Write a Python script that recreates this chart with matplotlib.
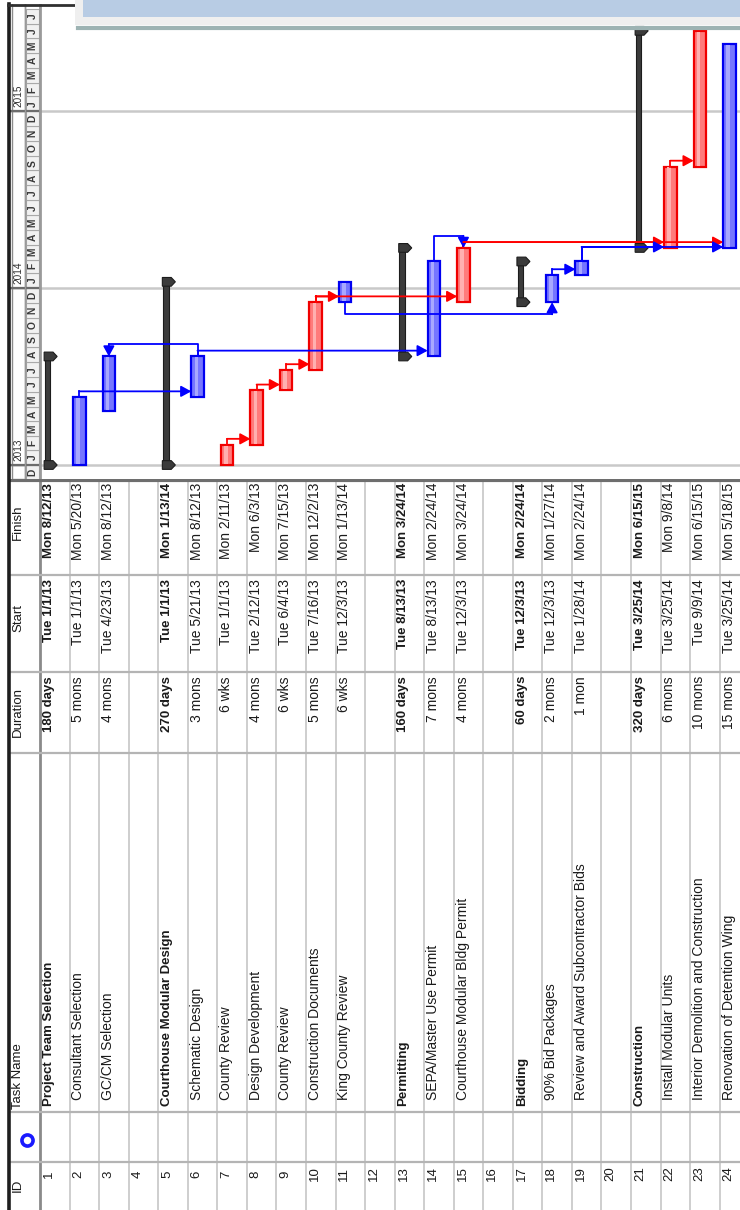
import datetime as dt
import matplotlib
matplotlib.use("Agg")
import matplotlib.pyplot as plt
import matplotlib.dates as mdates
from matplotlib.patches import Rectangle, Polygon
from matplotlib.lines import Line2D

plt.rcParams['font.family'] = ['Liberation Sans', 'DejaVu Sans']

# ------------------------------------------------------------------ data
task_ids = list(range(1, 25))
task_names = [
    "Project Team Selection", "Consultant Selection", "GC/CM Selection", "",
    "Courthouse Modular Design", "Schematic Design", "County Review", "Design Development",
    "County Review", "Construction Documents", "King County Review", "",
    "Permitting", "SEPA/Master Use Permit", "Courthouse Modular Bldg Permit", "",
    "Bidding", "90% Bid Packages", "Review and Award Subcontractor Bids", "",
    "Construction", "Install Modular Units", "Interior Demolition and Construction",
    "Renovation of Detention Wing"]
durations = [
    "180 days", "5 mons", "4 mons", "", "270 days", "3 mons", "6 wks", "4 mons",
    "6 wks", "5 mons", "6 wks", "", "160 days", "7 mons", "4 mons", "",
    "60 days", "2 mons", "1 mon", "", "320 days", "6 mons", "10 mons", "15 mons"]
start_dates = [
    "2013-01-01", "2013-01-01", "2013-04-23", None, "2013-01-01", "2013-05-21",
    "2013-01-01", "2013-02-12", "2013-06-04", "2013-07-16", "2013-12-03", None,
    "2013-08-13", "2013-08-13", "2013-12-03", None, "2013-12-03", "2013-12-03",
    "2014-01-28", None, "2014-03-25", "2014-03-25", "2014-09-09", "2014-03-25"]
finish_dates = [
    "2013-08-12", "2013-05-20", "2013-08-12", None, "2014-01-13", "2013-08-12",
    "2013-02-11", "2013-06-03", "2013-07-15", "2013-12-02", "2014-01-13", None,
    "2014-03-24", "2014-02-24", "2014-03-24", None, "2014-02-24", "2014-01-27",
    "2014-02-24", None, "2015-06-15", "2014-09-08", "2015-06-15", "2015-05-18"]
bar_types = [
    "summary", "task", "task", None, "summary", "task", "crit", "crit",
    "crit", "crit", "task", None, "summary", "task", "crit", None,
    "summary", "task", "task", None, "summary", "crit", "crit", "task"]
# (predecessor id, successor id, link type)
links = [(2, 6, "FS"), (6, 3, "FF"), (6, 14, "FS"), (7, 8, "FS"), (8, 9, "FS"),
         (9, 10, "FS"), (10, 11, "FS"), (10, 15, "FS"), (11, 18, "SS"),
         (14, 15, "FF"), (18, 19, "FS"), (15, 22, "FS"), (15, 24, "FS"),
         (19, 22, "FS"), (19, 24, "FS"), (22, 23, "FS")]
col_headers = ["ID", "Task Name", "Duration", "Start", "Finish"]
timeline_start, timeline_end = "2012-12-01", "2015-08-01"

# ------------------------------------------------------------------ layout
W, H = 740, 1210
fig = plt.figure(figsize=(W / 100, H / 100), dpi=100)
fig.patch.set_facecolor("white")

ROW, ROW0, X_LEFT = 29.55, 40, 9


def px_row(px):
    return 0.5 + (px - ROW0) / ROW


def frect(x0, y0, x1, y1):
    return [x0 / W, 1 - y1 / H, (x1 - x0) / W, (y1 - y0) / H]


d2n = lambda s: mdates.date2num(dt.datetime.strptime(s, "%Y-%m-%d"))
T0 = d2n("2013-01-01")
PPD = 14.75 / 30.44
Y_T0, G_TOP, G_BOT = 465, 4, 479
xlo, xhi = px_row(X_LEFT), px_row(W)

gx = fig.add_axes(frect(X_LEFT, G_TOP, W, G_BOT))
gx.set_xlim(xlo, xhi)
gx.set_ylim(T0 - (G_BOT - Y_T0) / PPD, T0 + (Y_T0 - G_TOP) / PPD)
gx.axis("off")

tx = fig.add_axes(frect(X_LEFT, G_BOT, W, H))
tx.set_xlim(xlo, xhi)
tx.set_ylim(H, G_BOT)
tx.axis("off")

FS_REG, FS_BOLD, FS_HEAD = 10.0, 9.5, 9.5
TXT = "#1a1a1a"

# ------------------------------------------------------------------ table
for k in range(0, 25):
    tx.axvline(k + 0.5, color="#8a8a8a" if k == 0 else "#c6c6c6",
               lw=2.0 if k == 0 else 1.2, zorder=1)
for yb in (575, 672, 753, 1112, 1162):
    tx.axhline(yb, color="#b4b4b4", lw=1.6, zorder=1)
tx.axhline(G_BOT + 1, color="#6e6e6e", lw=3, zorder=2)

hx = px_row(18)
kw = dict(rotation=90, rotation_mode="anchor", va="center", color=TXT)
tx.text(hx, 1192, col_headers[0], ha="left", fontsize=FS_HEAD, **kw)
tx.text(hx, 1109, col_headers[1], ha="left", fontsize=FS_HEAD, **kw)
tx.text(hx, 712, col_headers[2], ha="center", fontsize=FS_HEAD, **kw)
tx.text(hx, 618, col_headers[3], ha="center", fontsize=FS_HEAD, **kw)
tx.text(hx, 522, col_headers[4], ha="center", fontsize=FS_HEAD, **kw)
tx.plot([px_row(27)], [1140], "o", ms=8, mfc="white", mec="#1a1aff", mew=2.6, zorder=3)


def fmt(s):
    d = dt.datetime.strptime(s, "%Y-%m-%d")
    return f"{d:%a} {d.month}/{d.day}/{d:%y}"


for r, name, dur, s, f, kind in zip(task_ids, task_names, durations,
                                     start_dates, finish_dates, bar_types):
    xc = r - 0.2
    tx.text(xc, 1174, str(r), ha="center", fontsize=FS_HEAD, **kw)
    if not name:
        continue
    summ = kind == "summary"
    st = dict(fontweight="bold" if summ else "normal",
              fontsize=FS_BOLD if summ else FS_REG, **kw)
    tx.text(xc, 1106 if summ else 1100, name, ha="left", **st)
    tx.text(xc, 676, dur, ha="right", **st)
    tx.text(xc, 579, fmt(s), ha="right", **st)
    tx.text(xc, 483, fmt(f), ha="right", **st)

# ------------------------------------------------------------------ timescale header
yr_x0, yr_x1 = px_row(12), px_row(25)
mo_x0, mo_x1 = px_row(25), px_row(40)
months = []
cur = dt.datetime.strptime(timeline_start, "%Y-%m-%d")
end = dt.datetime.strptime(timeline_end, "%Y-%m-%d")
while cur < end:
    nxt = dt.datetime(cur.year + (cur.month == 12), cur.month % 12 + 1, 1)
    months.append((cur, nxt))
    cur = nxt
for a, b in months:
    ya, yb = mdates.date2num(a), mdates.date2num(b)
    gx.add_patch(Rectangle((mo_x0 + 0.03, ya), mo_x1 - mo_x0 - 0.06, yb - ya,
                           fc="#f1f1f1", ec="#a9a9a9", lw=0.8, zorder=2))
    gx.text((mo_x0 + mo_x1) / 2, (ya + yb) / 2, a.strftime("%b")[0], rotation=90,
            ha="center", va="center", fontsize=7.4, fontweight="bold",
            color="#3a3a3a", zorder=3, clip_on=True)
for yr in (2012, 2013, 2014, 2015):
    ya = max(mdates.date2num(dt.datetime(yr, 1, 1)), gx.get_ylim()[0])
    yb = mdates.date2num(dt.datetime(yr + 1, 1, 1))
    gx.add_patch(Rectangle((yr_x0, ya), yr_x1 - yr_x0, yb - ya, fc="white",
                           ec="#8c8c8c", lw=1.0, zorder=2))
    if yr >= 2013:
        gx.text((yr_x0 + yr_x1) / 2, ya + 8, str(yr), rotation=90,
                rotation_mode="anchor", ha="left", va="center", fontsize=7.2,
                color="#303030", zorder=3, clip_on=True)
        gx.axhline(ya, color="#c9c9c9", lw=1.8, zorder=1)
        gx.plot([xlo, 0.5], [ya, ya], color="#6c6c6c", lw=1.6, zorder=3)
gx.axvline(0.5, color="#9a9a9a", lw=2, zorder=3)
gx.axvline(mo_x0, color="#9a9a9a", lw=1.0, zorder=3)

# ------------------------------------------------------------------ bars
nums = {}
for r, s, f in zip(task_ids, start_dates, finish_dates):
    if s is not None:
        nums[r] = (d2n(s), d2n(f) + 1)

SUM_C, SUM_E = "#3b3b3b", "#1c1c1c"
for r, kind in zip(task_ids, bar_types):
    if kind is None:
        continue
    y0, y1 = nums[r]
    if kind == "summary":
        gx.add_patch(Rectangle((r - 0.34, y0), 0.19, y1 - y0, fc=SUM_C, ec=SUM_E,
                               lw=0.8, zorder=3))
        for yc in (y0, y1):
            poly = [(r - 0.36, yc - 9), (r - 0.36, yc + 9), (r - 0.06, yc + 9),
                    (r + 0.08, yc), (r - 0.06, yc - 9)]
            gx.add_patch(Polygon(poly, closed=True, fc=SUM_C, ec=SUM_E, lw=0.8,
                                 zorder=3))
    else:
        fc, ec, hi = (("#ff7b7b", "#f00000", "#ffb0b0") if kind == "crit"
                      else ("#7676ff", "#0000f0", "#a8a8ff"))
        gx.add_patch(Rectangle((r - 0.38, y0), 0.42, y1 - y0, fc=fc, ec=ec, lw=1.6,
                               zorder=3))
        gx.add_patch(Rectangle((r - 0.27, y0 + 2), 0.12, max(y1 - y0 - 4, 0.5),
                               fc=hi, ec="none", zorder=3))

# ------------------------------------------------------------------ links


def bar_cx(r):
    return r - 0.17


def bar_left(r):
    return r - 0.38


for p, s, kind in links:
    ps, pe = nums[p]
    ss, se = nums[s]
    col = "#ff0000" if bar_types[p - 1] == "crit" else "#0000ff"
    if kind == "FS":
        yh = max(pe + 12, ss + 2)
        pts = [(bar_cx(p), pe), (bar_cx(p), yh)]
        tip = (bar_left(s), yh)
    elif kind == "FF":
        yh = max(pe, se) + 25
        pts = [(bar_cx(p), pe), (bar_cx(p), yh), (bar_cx(s), yh)]
        tip = (bar_cx(s), se)
    else:
        yh = min(ps, ss) - 25
        pts = [(bar_cx(p), ps), (bar_cx(p), yh), (bar_cx(s), yh)]
        tip = (bar_cx(s), ss)
    gx.plot([q[0] for q in pts], [q[1] for q in pts], color=col, lw=1.3, zorder=4)
    gx.annotate("", xy=tip, xytext=pts[-1],
                arrowprops=dict(arrowstyle="-|>,head_length=0.55,head_width=0.3",
                                color=col, lw=1.3, shrinkA=0, shrinkB=0,
                                mutation_scale=11), zorder=5)

# ------------------------------------------------------------------ frame + overlay
ft = fig.transFigure
fig.add_artist(Line2D([8.5 / W] * 2, [0, 1 - 4 / H], transform=ft, color="#1e1e1e", lw=2.6))
fig.add_artist(Line2D([8 / W, 75 / W], [1 - 4.5 / H] * 2, transform=ft, color="#303030", lw=2))
fig.add_artist(Rectangle((75 / W, 1 - 25 / H), 665 / W, 25 / H, transform=ft,
                         fc="#efefef", ec="none", zorder=10))
fig.add_artist(Rectangle((83 / W, 1 - 17 / H), 657 / W, 17 / H, transform=ft,
                         fc="#b8cce4", ec="none", zorder=11))
fig.add_artist(Line2D([78 / W, 1], [1 - 27.5 / H] * 2, transform=ft, color="#9db3b3",
                      lw=3, zorder=11))

fig.savefig("out.png", dpi=100, facecolor="white")
